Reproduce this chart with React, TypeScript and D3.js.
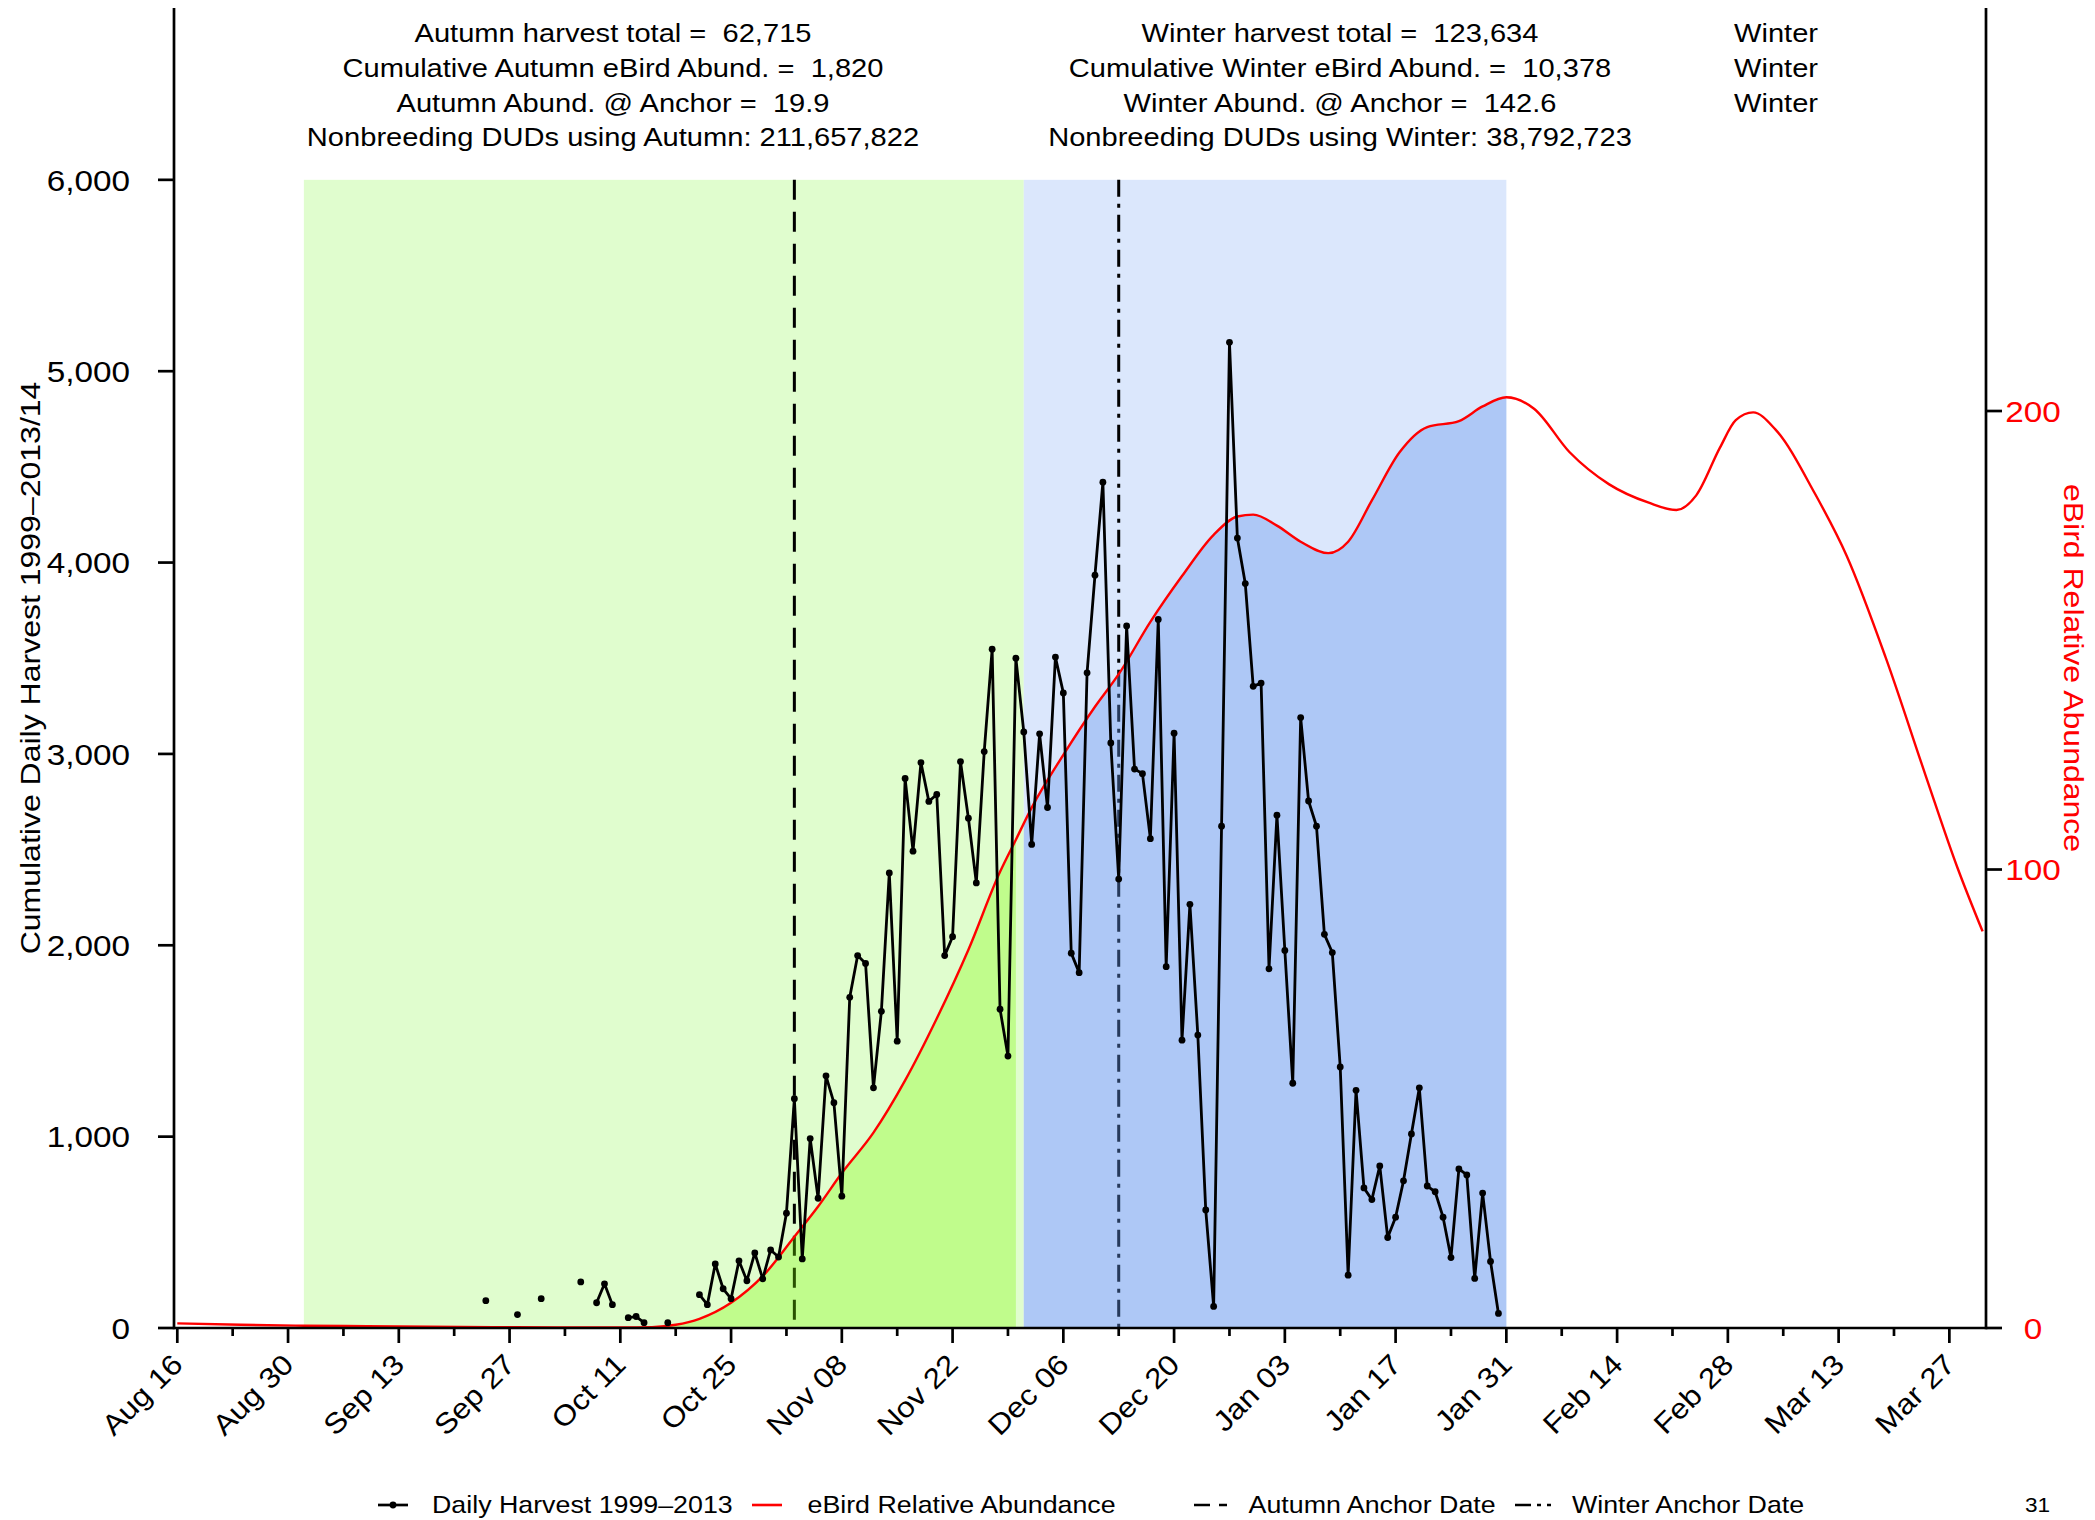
import React from "react";
import * as d3 from "d3";

// ---------------- data ----------------
const seasonStart = new Date("2011-08-16"); // day 0 of the season (UTC)
const dayMs = 864e5;

// Daily harvest 1999–2013, one value per consecutive day starting Sep 24 (null = none)
const harvestStart = new Date("2011-09-24");
const harvestValues: (number | null)[] = [
  143, null, null, null, 70, null, null, 153, null, null, null, null, 241, null,
  132, 231, 122, null, 54, 60, 28, null, null, 28, null, null, null,
  174, 122, 335, 205, 153, 351, 247, 392, 257, 408, 371, 600, 1198, 361, 990, 678,
  1318, 1177, 689, 1728, 1946, 1905, 1255, 1655, 2378, 1499, 2872, 2492, 2955, 2752,
  2788, 1946, 2045, 2960, 2664, 2326, 3012, 3547, 1666, 1421, 3500, 3115, 2527, 3105,
  2720, 3506, 3319, 1959, 1857, 3424, 3934, 4420, 3057, 2346, 3669, 2921, 2897, 2557,
  3703, 1888, 3108, 1504, 2214, 1531, 617, 113, 2622, 5151, 4128, 3890, 3353, 3370,
  1877, 2680, 1973, 1279, 3190, 2754, 2622, 2057, 1962, 1364, 276, 1242, 732, 671,
  847, 473, 579, 769, 1014, 1255, 742, 712, 579, 368, 831, 800, 259, 705, 348, 76,
];

// eBird relative abundance (days after Aug 16, value)
const ebirdDays = [
  0, 8, 16, 24, 32, 40, 48, 56, 60, 63, 66, 70, 74, 78, 81, 84, 88, 92, 96, 100, 104,
  106, 108, 112, 116, 119, 123, 127, 131, 134, 136, 139, 142, 145.5, 148, 151, 154.5,
  158, 162, 165, 168, 171.5, 176, 181, 186, 189.5, 192, 195, 197, 199.2, 202, 207,
  211, 216, 221, 225, 228.2,
];
const ebirdValues = [
  1.0, 0.7, 0.5, 0.4, 0.3, 0.2, 0.1, 0.1, 0.2, 0.7, 2.0, 5.5, 11.3, 19.9, 26.5, 33.8,
  42.6, 54.0, 67.5, 82.5, 99.5, 106.5, 113.5, 125, 135.5, 142.6, 154, 164, 173, 177,
  177.4, 175, 171.5, 169, 171.5, 180.5, 191, 196.5, 197.8, 201, 203, 200.5, 191, 184,
  180, 178.4, 181.6, 192, 198, 199.7, 196, 182, 168.5, 146, 120.5, 100.5, 86.5,
];

// periods
const autumnPeriod = [new Date("2011-09-01"), new Date("2011-12-01")];
const autumnFillEnd = new Date("2011-11-30");
const winterPeriod = [new Date("2011-12-01"), new Date("2012-01-31")];
const autumnAnchor = new Date("2011-11-02");
const winterAnchor = new Date("2011-12-13");

const leftTicks = [0, 1000, 2000, 3000, 4000, 5000, 6000];
const rightTicks = [0, 100, 200];

const autumnText = [
  "Autumn harvest total =  62,715",
  "Cumulative Autumn eBird Abund. =  1,820",
  "Autumn Abund. @ Anchor =  19.9",
  "Nonbreeding DUDs using Autumn: 211,657,822",
];
const winterText = [
  "Winter harvest total =  123,634",
  "Cumulative Winter eBird Abund. =  10,378",
  "Winter Abund. @ Anchor =  142.6",
  "Nonbreeding DUDs using Winter: 38,792,723",
];
const extraText = ["Winter", "Winter", "Winter"];

const legendItems = [
  { label: "Daily Harvest 1999\u20132013", kind: "harvest" },
  { label: "eBird Relative Abundance", kind: "ebird" },
  { label: "Autumn Anchor Date", kind: "autumn" },
  { label: "Winter Anchor Date", kind: "winter" },
];

// ---------------- helpers ----------------
const FONT = "'Liberation Sans', Arial, Helvetica, sans-serif";
const dayToDate = (d: number) => new Date(seasonStart.getTime() + d * dayMs);

function Txt(props: any) {
  const { x, y, rotate = 0, sx = 1.12, size, anchor = "start", fill = "#000", dy, children } = props;
  return (
    <text
      transform={`translate(${x},${y}) rotate(${rotate}) scale(${sx},1)`}
      fontSize={size}
      textAnchor={anchor}
      fill={fill}
      dy={dy}
      fontFamily={FONT}
      style={{ whiteSpace: "pre" }}
    >
      {children}
    </text>
  );
}

export default function App() {
  const W = 2095;
  const H = 1520;
  const left = 174;
  const right = 1986;
  const bottom = 1328;
  const top = 8;

  const x = d3.scaleUtc().domain([dayToDate(-0.417), dayToDate(228.63)]).range([left, right]);
  const yL = d3.scaleLinear().domain([0, 6898]).range([bottom, top]);
  const yR = d3.scaleLinear().domain([0, 287.9]).range([bottom, top]);

  const harvest = harvestValues.map((v, i) => ({ date: d3.utcDay.offset(harvestStart, i), v }));
  const ebird = ebirdDays.map((d, i) => ({ date: dayToDate(d), v: ebirdValues[i] }));

  const harvestLine = d3
    .line<{ date: Date; v: number | null }>()
    .defined((d) => d.v != null)
    .x((d) => x(d.date))
    .y((d) => yL(d.v as number));

  const ebirdLine = d3
    .line<{ date: Date; v: number }>()
    .x((d) => x(d.date))
    .y((d) => yR(d.v))
    .curve(d3.curveMonotoneX);
  const ebirdArea = d3
    .area<{ date: Date; v: number }>()
    .x((d) => x(d.date))
    .y0(yR(0))
    .y1((d) => yR(d.v))
    .curve(d3.curveMonotoneX);

  const tickDays = d3.range(0, 225, 7);
  const xTicks = tickDays.map((d, i) => ({ date: d3.utcDay.offset(seasonStart, d), major: i % 2 === 0 }));
  const fmt = d3.utcFormat("%b %d");

  const rectTop = yL(6000);
  const axisW = 2.7;

  const legendX = [378, 752, 1194, 1515];
  const legendTextX = [432, 807.5, 1248.6, 1572];
  const legendY = 1505;

  return (
    <svg
      width={W}
      height={H}
      viewBox={`0 0 ${W} ${H}`}
      style={{ position: "absolute", left: 0, top: 0, background: "#fff" }}
    >
      <defs>
        <clipPath id="clipAutumn">
          <rect x={x(autumnPeriod[0])} y={0} width={x(autumnFillEnd) - x(autumnPeriod[0])} height={H} />
        </clipPath>
        <clipPath id="clipWinter">
          <rect x={x(winterPeriod[0])} y={0} width={x(winterPeriod[1]) - x(winterPeriod[0])} height={H} />
        </clipPath>
      </defs>
      <rect x={0} y={0} width={W} height={H} fill="#fff" />

      {/* season backgrounds */}
      <rect
        x={x(autumnPeriod[0])}
        y={rectTop}
        width={x(autumnPeriod[1]) - x(autumnPeriod[0])}
        height={bottom - rectTop}
        fill="#e0fdce"
      />
      <rect
        x={x(winterPeriod[0])}
        y={rectTop}
        width={x(winterPeriod[1]) - x(winterPeriod[0])}
        height={bottom - rectTop}
        fill="#dbe7fc"
      />

      {/* anchor lines */}
      <line
        x1={x(autumnAnchor)}
        x2={x(autumnAnchor)}
        y1={rectTop}
        y2={bottom}
        stroke="#000"
        strokeWidth={3}
        strokeDasharray="20,12"
      />
      <line
        x1={x(winterAnchor)}
        x2={x(winterAnchor)}
        y1={rectTop}
        y2={bottom}
        stroke="#000"
        strokeWidth={3}
        strokeDasharray="17,7,4,7"
      />

      {/* areas under the eBird curve */}
      <path d={ebirdArea(ebird) as string} fill="#7cfc00" fillOpacity={0.32} clipPath="url(#clipAutumn)" />
      <path d={ebirdArea(ebird) as string} fill="#6495ed" fillOpacity={0.38} clipPath="url(#clipWinter)" />

      {/* eBird line */}
      <path d={ebirdLine(ebird) as string} fill="none" stroke="#ff0000" strokeWidth={2.4} />

      {/* harvest */}
      <path
        d={harvestLine(harvest) as string}
        fill="none"
        stroke="#000"
        strokeWidth={2.8}
        strokeLinejoin="round"
      />
      {harvest
        .filter((d) => d.v != null)
        .map((d, i) => (
          <circle key={i} cx={x(d.date)} cy={yL(d.v as number)} r={3.4} fill="#000" />
        ))}

      {/* axes */}
      <line x1={left} x2={left} y1={top} y2={bottom + axisW / 2} stroke="#000" strokeWidth={axisW} />
      <line x1={right} x2={right} y1={top} y2={bottom + axisW / 2} stroke="#000" strokeWidth={axisW} />
      <line x1={left} x2={right} y1={bottom} y2={bottom} stroke="#000" strokeWidth={axisW} />
      {leftTicks.map((t) => (
        <g key={"l" + t}>
          <line x1={left - 16} x2={left} y1={yL(t)} y2={yL(t)} stroke="#000" strokeWidth={axisW} />
          <Txt x={130} y={yL(t)} size={30} sx={1.11} anchor="end" dy="0.358em">
            {d3.format(",")(t)}
          </Txt>
        </g>
      ))}
      {rightTicks.map((t) => (
        <g key={"r" + t}>
          <line x1={right} x2={right + 16} y1={yR(t)} y2={yR(t)} stroke="#000" strokeWidth={axisW} />
          <Txt x={2033} y={yR(t)} size={30} sx={1.11} anchor="middle" dy="0.358em" fill="#ff0000">
            {String(t)}
          </Txt>
        </g>
      ))}
      {xTicks.map((t, i) => (
        <g key={"x" + i}>
          <line
            x1={x(t.date)}
            x2={x(t.date)}
            y1={bottom}
            y2={bottom + (t.major ? 15 : 8)}
            stroke="#000"
            strokeWidth={axisW}
          />
          {t.major && (
            <Txt x={x(t.date)} y={1359} rotate={-45} size={28.5} sx={1.11} anchor="end" dy="0.358em">
              {fmt(t.date)}
            </Txt>
          )}
        </g>
      ))}

      {/* axis titles */}
      <Txt x={40} y={(top + bottom) / 2} rotate={-90} size={28.2} sx={1.135} anchor="middle">
        {"Cumulative Daily Harvest 1999\u20132013/14"}
      </Txt>
      <Txt x={2064} y={(top + bottom) / 2} rotate={90} size={28.2} sx={1.135} anchor="middle" fill="#ff0000">
        eBird Relative Abundance
      </Txt>

      {/* annotations */}
      {autumnText.map((s, i) => (
        <Txt key={"a" + i} x={613} y={42.3 + i * 34.6} size={25.6} sx={1.137} anchor="middle">
          {s}
        </Txt>
      ))}
      {winterText.map((s, i) => (
        <Txt key={"w" + i} x={1340} y={42.3 + i * 34.6} size={25.6} sx={1.137} anchor="middle">
          {s}
        </Txt>
      ))}
      {extraText.map((s, i) => (
        <Txt key={"e" + i} x={1776} y={42.3 + i * 34.6} size={25.6} sx={1.137} anchor="middle">
          {s}
        </Txt>
      ))}

      {/* legend */}
      {legendItems.map((it, i) => {
        const lx = legendX[i];
        return (
          <g key={"lg" + i}>
            {it.kind === "harvest" && (
              <g>
                <line x1={lx} x2={lx + 30} y1={legendY} y2={legendY} stroke="#000" strokeWidth={2.7} />
                <circle cx={lx + 15} cy={legendY} r={3.4} fill="#000" />
              </g>
            )}
            {it.kind === "ebird" && (
              <line x1={lx} x2={lx + 30} y1={legendY} y2={legendY} stroke="#ff0000" strokeWidth={2.6} />
            )}
            {it.kind === "autumn" && (
              <line
                x1={lx}
                x2={lx + 33}
                y1={legendY}
                y2={legendY}
                stroke="#000"
                strokeWidth={2.7}
                strokeDasharray="16,9"
              />
            )}
            {it.kind === "winter" && (
              <line
                x1={lx}
                x2={lx + 36}
                y1={legendY}
                y2={legendY}
                stroke="#000"
                strokeWidth={2.7}
                strokeDasharray="16,6,4,6"
              />
            )}
            <Txt x={legendTextX[i]} y={legendY} size={23.6} sx={1.135} dy="0.358em">
              {it.label}
            </Txt>
          </g>
        );
      })}

      {/* page number */}
      <Txt x={2025} y={1512} size={20} sx={1.13}>
        31
      </Txt>
    </svg>
  );
}
